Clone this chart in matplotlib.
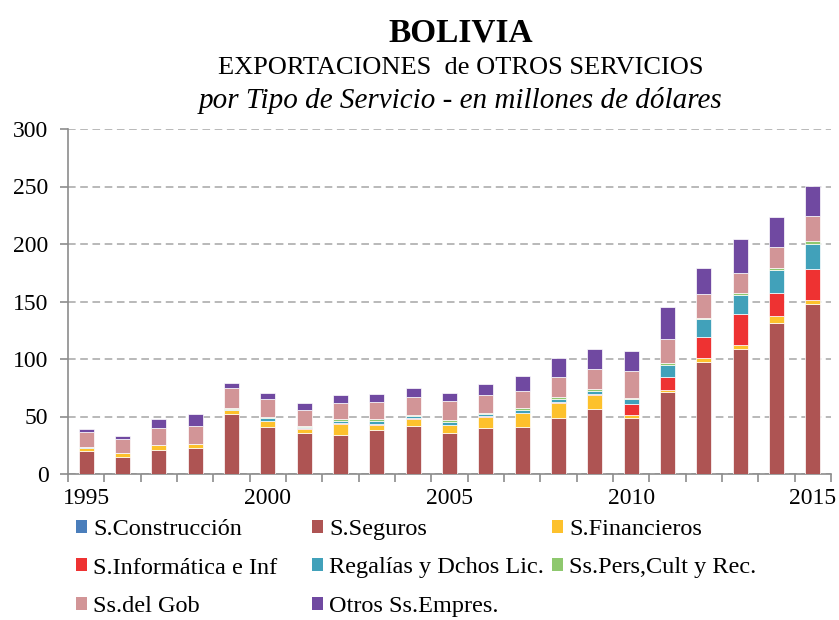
import matplotlib
matplotlib.use("Agg")
import matplotlib.pyplot as plt
from matplotlib.patches import Patch
import numpy as np

years = list(range(1995, 2016))
series_names = ["S.Construcción", "S.Seguros", "S.Financieros", "S.Informática e Inf",
                "Regalías y Dchos Lic.", "Ss.Pers,Cult y Rec.", "Ss.del Gob", "Otros Ss.Empres."]
colors = ["#4a7ebb", "#ae5453", "#fdc12c", "#ee3232", "#41a1ba", "#8ec86e", "#d29597", "#7049a1"]

construccion = [0.0] * 21
seguros = [19.7, 15.1, 20.9, 22.9, 52.2, 41.2, 35.9, 33.9, 38.0, 42.0, 35.9,
           40.0, 40.8, 48.7, 56.9, 48.7, 70.9, 97.1, 108.4, 131.7, 147.4]
financieros = [3.2, 2.9, 4.0, 3.2, 3.7, 4.9, 2.9, 9.9, 4.6, 6.1, 6.7,
               9.9, 12.0, 12.8, 11.9, 2.3, 2.1, 4.1, 4.1, 5.8, 4.3]
informatica = [0.0, 0.0, 0.0, 0.0, 0.0, 0.0, 1.2, 0.3, 1.2, 0.3, 0.3,
               0.3, 0.3, 1.2, 1.2, 9.9, 11.3, 18.3, 26.2, 20.3, 26.5]
regalias = [0.3, 0.2, 0.2, 0.2, 0.8, 2.3, 1.0, 2.3, 2.0, 1.8, 2.3,
            2.0, 2.2, 2.3, 2.3, 4.4, 10.8, 15.4, 17.1, 19.2, 22.1]
personales = [0.3, 0.2, 0.2, 0.2, 0.8, 0.9, 0.7, 1.1, 1.7, 1.1, 2.1,
              1.1, 2.0, 1.8, 2.0, 0.9, 1.1, 1.1, 1.8, 2.1, 2.0]
gobierno = [13.3, 12.3, 14.7, 15.5, 17.6, 15.9, 14.2, 14.5, 14.8, 16.0, 16.0,
            15.0, 15.0, 17.5, 16.7, 23.0, 21.0, 20.7, 17.1, 18.0, 22.1]
otros = [2.3, 2.3, 8.1, 9.9, 4.0, 5.2, 5.5, 7.0, 7.0, 7.2, 6.9,
         10.2, 13.0, 16.3, 17.5, 18.1, 27.9, 22.4, 29.4, 26.2, 26.2]

series = [construccion, seguros, financieros, informatica, regalias, personales, gobierno, otros]

W, H = 839, 620
fig = plt.figure(figsize=(W / 100, H / 100), dpi=100)
serif = "Liberation Serif"

ax = fig.add_axes([68 / W, 1 - 474 / H, (831 - 68) / W, (474 - 129) / H])
x = np.arange(len(years))
bottom = np.zeros(len(years))
for name, vals, col in zip(series_names, series, colors):
    v = np.array(vals)
    ax.bar(x, v, width=0.42, bottom=bottom, color=col, edgecolor="white",
           linewidth=0.5, label=name, zorder=3)
    bottom += v

ax.set_ylim(0, 300)
ax.set_xlim(-0.5, len(years) - 0.5)
ax.set_yticks(range(0, 301, 50))
ax.yaxis.grid(True, color="#a6a6a6", linestyle=(0, (5, 3)), linewidth=1.1, zorder=0)
ax.set_axisbelow(True)
for s in ["top", "right"]:
    ax.spines[s].set_visible(False)
for s in ["left", "bottom"]:
    ax.spines[s].set_color("#8c8c8c")
    ax.spines[s].set_linewidth(1.2)

ax.set_xticks([0, 5, 10, 15, 20])
ax.set_xticklabels(["1995", "2000", "2005", "2010", "2015"])
ax.set_xticks(np.arange(-0.5, len(years), 1.0), minor=True)
ax.tick_params(axis="x", which="major", length=0, pad=10)
ax.tick_params(axis="x", which="minor", length=6, width=1.2, color="#8c8c8c", direction="out")
ax.tick_params(axis="y", length=6, width=1.2, color="#8c8c8c", pad=8)
for lab in ax.get_xticklabels() + ax.get_yticklabels():
    lab.set_fontfamily(serif)
    lab.set_fontsize(17)

cx = 461 / W
fig.text(cx, 1 - 33 / H, "BOLIVIA", ha="center", va="center", fontfamily=serif,
         fontsize=24, fontweight="bold")
fig.text(cx, 1 - 68 / H, "EXPORTACIONES  de OTROS SERVICIOS", ha="center", va="center",
         fontfamily=serif, fontsize=19)
fig.text(cx, 1 - 101 / H, "por Tipo de Servicio - en millones de dólares", ha="center",
         va="center", fontfamily=serif, fontsize=21, style="italic")

handles = [Patch(facecolor=c, edgecolor="none") for c in colors]
cols = [[0, 3, 6], [1, 4, 7], [2, 5]]
col_x = [76, 312, 552]
for idxs, xpos in zip(cols, col_x):
    fig.legend([handles[i] for i in idxs], [series_names[i] for i in idxs],
               loc="upper left", bbox_to_anchor=(xpos / W, 1 - 519 / H),
               frameon=False, prop={"family": serif, "size": 17.5},
               handlelength=0.45, handleheight=0.45, handletextpad=0.25,
               labelspacing=0.72, borderpad=0, borderaxespad=0)

fig.savefig("out.png", dpi=100)
